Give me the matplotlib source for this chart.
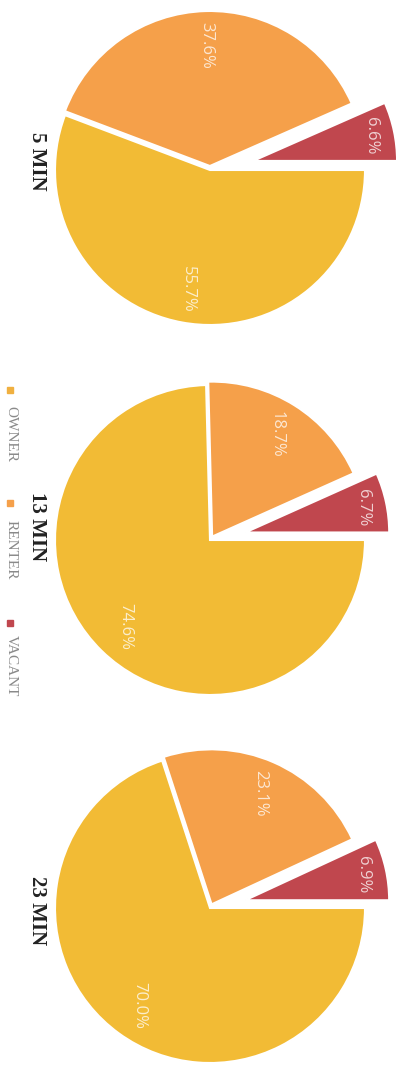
import matplotlib
matplotlib.use("Agg")
import matplotlib.pyplot as plt

# chart data (picture is turned 90 degrees clockwise)
titles = ["5 MIN", "13 MIN", "23 MIN"]
categories = ["Owner", "Renter", "Vacant"]
owner = [55.7, 74.6, 70.0]
renter = [37.6, 18.7, 23.1]
vacant = [6.6, 6.7, 6.9]

colors = {"Vacant": "#c0474e", "Renter": "#f5a04a", "Owner": "#f2bb35"}

W, H = 407, 1069
fig = plt.figure(figsize=(W / 100, H / 100), dpi=100)
ax = fig.add_axes([0, 0, 1, 1])

centers_y = [170, 540, 908]
title_y = [161, 527, 911]
vacant_shift = [44, 36, 36]
radius = 155

for i in range(3):
    vals = [vacant[i], renter[i], owner[i]]
    labels = ["%.1f%%" % v for v in vals]
    cy = H - centers_y[i]
    wedges, texts = ax.pie(
        vals,
        labels=labels,
        labeldistance=0.78,
        colors=[colors["Vacant"], colors["Renter"], colors["Owner"]],
        explode=[vacant_shift[i], 4, 0],  # data units (pixels)
        startangle=0,
        counterclock=True,
        center=(210, cy),
        radius=radius,
        wedgeprops=dict(edgecolor="white", linewidth=1.5),
        textprops=dict(color="white", fontsize=12, alpha=0.75, family="Open Sans"),
        frame=True,
    )
    wedges[0].set_radius(144)
    for t in texts:
        t.set_rotation(-90)
        t.set_ha("center")
        t.set_va("center")
    fig.text(37 / W, 1 - title_y[i] / H, titles[i], rotation=-90,
             ha="center", va="center", fontsize=15, fontweight="bold",
             family="Liberation Serif", color="#222222")

ax.set_xlim(0, W)
ax.set_ylim(0, H)
ax.set_aspect("equal")
ax.axis("off")

# legend along the left edge
leg_marker_y = [390, 503, 623]
leg_text_y = [434, 550, 666]
leg_colors = ["#f0b040", "#f5a04a", "#c0474e"]
for name, my, ty, c in zip(categories, leg_marker_y, leg_text_y, leg_colors):
    ax.plot([10], [H - my], marker="s", ms=4, color=c, clip_on=False)
    ax.text(11, H - ty, name.upper(), rotation=-90, ha="center", va="center",
            fontsize=11, family="Liberation Serif", color="#8a8a8a")

fig.savefig("out.png", dpi=100)
